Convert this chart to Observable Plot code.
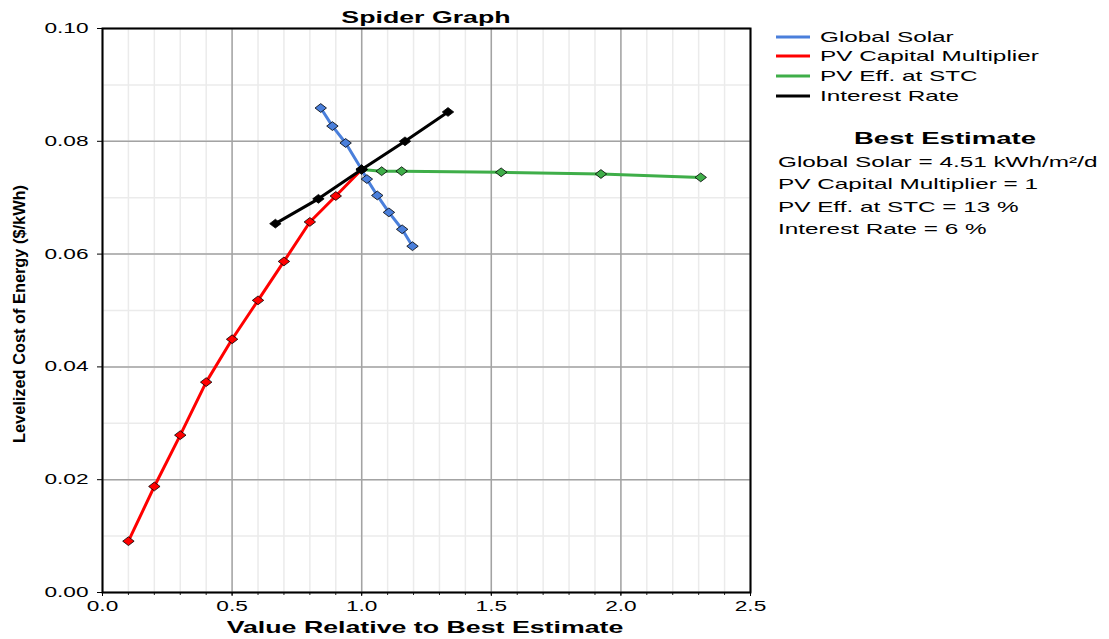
<!DOCTYPE html>
<html>
<head>
<meta charset="utf-8">
<script src="https://cdn.jsdelivr.net/npm/d3@7"></script>
<script src="https://cdn.jsdelivr.net/npm/@observablehq/plot@0.6"></script>
<style>
  html, body { margin: 0; padding: 0; background: #fff; }
  svg text { font-family: "Liberation Sans", Arial, sans-serif; }
</style>
</head>
<body>
<script>
// ---- data ----
const seriesNames = ["Global Solar", "PV Capital Multiplier", "PV Eff. at STC", "Interest Rate"];
const seriesColors = ["#4a7fdb", "#ff0000", "#3fae49", "#000000"];

const globalSolarX = [0.842, 0.887, 0.938, 1.0, 1.02, 1.06, 1.105, 1.156, 1.196];
const globalSolarY = [0.0859, 0.0827, 0.0797, 0.0750, 0.0733, 0.0704, 0.0674, 0.0644, 0.0614];

const capitalX = [0.1, 0.2, 0.3, 0.4, 0.5, 0.6, 0.7, 0.8, 0.9, 1.0];
const capitalY = [0.0091, 0.0188, 0.0279, 0.0373, 0.0449, 0.0518, 0.0587, 0.0657, 0.0703, 0.0750];

const effX = [1.0, 1.077, 1.154, 1.538, 1.923, 2.308];
const effY = [0.0750, 0.0747, 0.0747, 0.0745, 0.0742, 0.0736];

const interestX = [0.667, 0.833, 1.0, 1.167, 1.333];
const interestY = [0.0654, 0.0698, 0.0750, 0.0800, 0.0852];

const xTicks = [0, 0.5, 1.0, 1.5, 2.0, 2.5];
const yTicks = [0, 0.02, 0.04, 0.06, 0.08, 0.10];
const xMinor = d3.range(0, 26).map(i => i / 10);
const yMinor = d3.range(0, 11).map(i => i / 100);

const title = "Spider Graph";
const xLabel = "Value Relative to Best Estimate";
const yLabel = "Levelized Cost of Energy ($/kWh)";
const bestTitle = "Best Estimate";
const bestLines = [
  "Global Solar = 4.51 kWh/m²/d",
  "PV Capital Multiplier = 1",
  "PV Eff. at STC = 13 %",
  "Interest Rate = 6 %"
];

// ---- table ----
const seriesXY = [
  [globalSolarX, globalSolarY],
  [capitalX, capitalY],
  [effX, effY],
  [interestX, interestY]
];
const rows = seriesXY.flatMap(([xs, ys], i) =>
  xs.map((x, j) => ({series: seriesNames[i], x, y: ys[j]})));

// wide diamond marker
const wideDiamond = {
  draw(ctx, size) {
    const r = Math.sqrt(size / Math.PI);
    const w = r * 1.3, h = r;
    ctx.moveTo(0, -h); ctx.lineTo(w, 0); ctx.lineTo(0, h); ctx.lineTo(-w, 0); ctx.closePath();
  }
};

const chart = Plot.plot({
  width: 1109,
  height: 639,
  marginLeft: 102,
  marginRight: 359,
  marginTop: 28,
  marginBottom: 47,
  x: {domain: [0, 2.5]},
  y: {domain: [0, 0.1]},
  color: {domain: seriesNames, range: seriesColors},
  style: {fontFamily: "'Liberation Sans', Arial, sans-serif", fontSize: "14px", color: "#000", background: "#fff"},
  marks: [
    Plot.gridX(xMinor, {stroke: "#ebebeb", strokeOpacity: 1, strokeWidth: 1.5}),
    Plot.gridY(yMinor, {stroke: "#ebebeb", strokeOpacity: 1, strokeWidth: 1.5}),
    Plot.gridX(xTicks, {stroke: "#a3a3a3", strokeOpacity: 1, strokeWidth: 1.5}),
    Plot.gridY(yTicks, {stroke: "#a3a3a3", strokeOpacity: 1, strokeWidth: 1.5}),
    Plot.axisX(xMinor, {tickSize: 3, text: null, label: null, stroke: "#222"}),
    Plot.axisX(xTicks, {tickSize: 4, tickPadding: 5, tickFormat: d => d.toFixed(1), label: null, fontSize: 14}),
    Plot.axisY(yTicks, {tickSize: 5, tickPadding: 9, tickFormat: d => d.toFixed(2), label: null, fontSize: 14}),
    Plot.frame({stroke: "#000", strokeWidth: 2}),
    Plot.line(rows, {x: "x", y: "y", z: "series", stroke: "series", strokeWidth: 3}),
    Plot.dot(rows, {x: "x", y: "y", fill: "series", stroke: "#000", strokeWidth: 0.8, symbol: wideDiamond, r: 4.4})
  ]
});

document.body.append(chart);
const svg = d3.select(chart);
const K = 1.62;

// stretch all Plot texts horizontally
svg.selectAll("text").each(function() {
  const len = this.getComputedTextLength();
  if (len > 0) {
    this.setAttribute("textLength", (len * K).toFixed(1));
    this.setAttribute("lengthAdjust", "spacingAndGlyphs");
  }
});

function addText(str, x, y, opts = {}) {
  const t = svg.append("text")
    .attr("x", x).attr("y", y)
    .attr("font-size", opts.size || 15)
    .attr("font-weight", opts.bold ? "bold" : "normal")
    .attr("text-anchor", opts.anchor || "start")
    .attr("fill", "#000")
    .text(str);
  if (opts.transform) t.attr("transform", opts.transform);
  const node = t.node();
  const len = node.getComputedTextLength();
  const target = opts.length != null ? opts.length : len * K;
  t.attr("textLength", target.toFixed(1)).attr("lengthAdjust", "spacingAndGlyphs");
  return t;
}

// title & axis labels
addText(title, 426, 23, {size: 16.5, bold: true, anchor: "middle"});
addText(xLabel, 425, 633, {size: 16.5, bold: true, anchor: "middle"});
addText(yLabel, 0, 0, {size: 17, bold: true, anchor: "middle", transform: "translate(25,314) rotate(-90)", length: 258});

// legend
const legendY = [37, 56, 76, 96];
seriesNames.forEach((name, i) => {
  svg.append("line")
    .attr("x1", 776).attr("x2", 810)
    .attr("y1", legendY[i]).attr("y2", legendY[i])
    .attr("stroke", seriesColors[i]).attr("stroke-width", 3);
  addText(name, 820, legendY[i] + 5, {size: 15});
});

// best estimate box
addText(bestTitle, 945, 144, {size: 17, bold: true, anchor: "middle"});
const bestY = [162, 184, 207, 229];
bestLines.forEach((s, i) => addText(s, 778, bestY[i] + 5, {size: 15}));
</script>
</body>
</html>
